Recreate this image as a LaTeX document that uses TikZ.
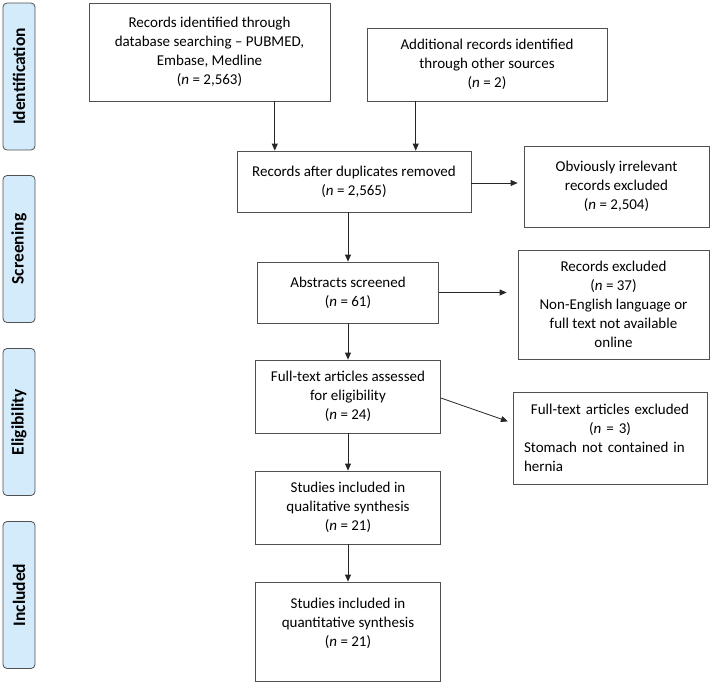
\documentclass[tikz,border=0pt]{standalone}
\usepackage{fontspec}
\setmainfont{Carlito}
\usetikzlibrary{arrows.meta,calc}
\definecolor{phasefill}{HTML}{D3EBFA}
\definecolor{boxline}{HTML}{505050}
\newcommand{\nn}{\textit{n}}
\begin{document}
\begin{tikzpicture}
      [x=1pt,y=-1pt,inner sep=2pt,
       font=\fontsize{15}{19}\selectfont,
       phase/.style={rectangle,rounded corners=4pt,draw=boxline,fill=phasefill,thick,
         rotate=90,minimum width=147pt,minimum height=32pt,font=\fontsize{17.5}{19}\selectfont\bfseries},
       block/.style={rectangle,draw=boxline,thick,align=center},
       arr/.style={-{Triangle[width=6pt,length=7pt]},draw=black!85,thick}]
      \useasboundingbox (0,0) rectangle (710,683);
      % phase labels
      \node at (19,76.5) (pid) [phase] {Identification};
      \node at (19,249) (psc) [phase] {Screening};
      \node at (19,422) (pel) [phase] {Eligibility};
      \node at (19,595) (pin) [phase] {Included};
      % boxes
      \node at (209.5,52) (rec1) [block,minimum width=241pt,minimum height=98pt]
        {Records identified through\\database searching -- PUBMED,\\Embase, Medline\\(\nn{} = 2,563)};
      \node at (487,64.5) (rec2) [block,minimum width=240pt,minimum height=73pt]
        {Additional records identified\\through other sources\\(\nn{} = 2)};
      \node at (354,181.5) (dup) [block,minimum width=234pt,minimum height=61pt]
        {Records after duplicates removed\\(\nn{} = 2,565)};
      \node at (616.5,186.5) (irr) [block,minimum width=185pt,minimum height=81pt]
        {Obviously irrelevant\\records excluded\\(\nn{} = 2,504)};
      \node at (348,292.5) (abs) [block,minimum width=181pt,minimum height=61pt]
        {Abstracts screened\\(\nn{} = 61)};
      \node at (613.5,304.5) (exc) [block,minimum width=191pt,minimum height=109pt]
        {Records excluded\\(\nn{} = 37)\\Non-English language or\\full text not available\\online};
      \node at (348,396.5) (fulltxt) [block,minimum width=185pt,minimum height=73pt]
        {Full-text articles assessed\\for eligibility\\(\nn{} = 24)};
      \node at (610,438) (ftx) [block,align=left,text width=172pt,minimum width=194pt,minimum height=92pt]
        {\hfill Full-text articles excluded\hfill\null\\\hfill(\nn{} = 3)\hfill\null\\Stomach not contained in\\hernia};
      \node at (348,507.5) (qual) [block,minimum width=185pt,minimum height=73pt]
        {Studies included in\\qualitative synthesis\\(\nn{} = 21)};
      \node at (348,631.5) (quan) [block,minimum width=185pt,minimum height=99pt]
        {Studies included in\\quantitative synthesis\\(\nn{} = 21)\\~};
      % connectors
      \coordinate (a1) at ($(rec1.south west)!0.77!(rec1.south east)$);
      \coordinate (a2) at ($(rec2.south west)!0.204!(rec2.south east)$);
      \draw [arr] (a1) to (a1 |- dup.north);
      \draw [arr] (a2) to (a2 |- dup.north);
      \draw [arr,shorten >=6pt] ([yshift=-1.5pt]dup.east) to ([yshift=-1.5pt]dup.east -| irr.west);
      \draw [arr] (abs.north |- dup.south) to (abs.north);
      \draw [arr,shorten >=11pt] (abs.east) to (abs.east -| exc.west);
      \draw [arr] (abs) to (fulltxt);
      \draw [arr,shorten >=5pt] ([yshift=-1.5pt]fulltxt.east) to ([yshift=15pt]ftx.west);
      \draw [arr] (fulltxt) to (qual);
      \draw [arr] (qual) to (quan);
\end{tikzpicture}
\end{document}
